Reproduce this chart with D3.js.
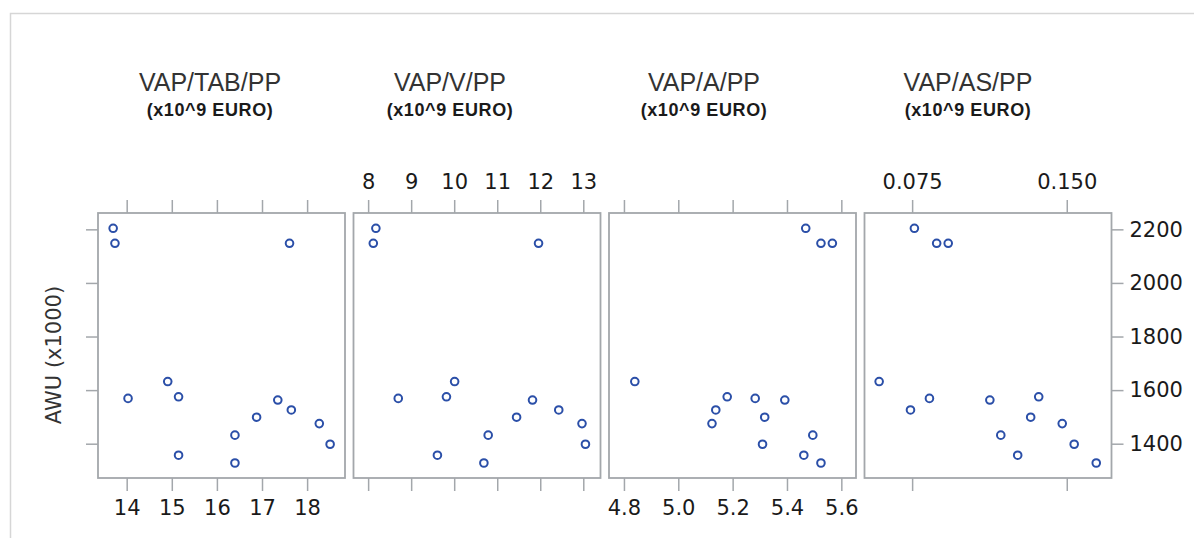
<!DOCTYPE html>
<html>
<head>
<meta charset="utf-8">
<script src="https://cdn.jsdelivr.net/npm/d3@7"></script>
<style>
  body { margin: 0; background: #fff; }
  svg { display: block; }
</style>
</head>
<body>
<svg id="canvas" width="1194" height="538"></svg>
<script>
// panel titles
const titles = ["VAP/TAB/PP", "VAP/V/PP", "VAP/A/PP", "VAP/AS/PP"];
const subtitle = "(x10^9 EURO)";

// AWU (x1000), one value per observation
const awu = [2204, 2148, 2148, 1632, 1575, 1569, 1563, 1526, 1499, 1475, 1432, 1398, 1357, 1328];

// x values of the same observations in each panel
const vapTab = [13.70, 13.74, 17.61, 14.91, 15.15, 14.03, 17.35, 17.65, 16.88, 18.27, 16.40, 18.51, 15.15, 16.40];
const vapV = [8.18, 8.12, 11.96, 10.01, 9.82, 8.70, 11.82, 12.43, 11.45, 12.97, 10.79, 13.05, 9.61, 10.69];
const vapA = [5.469, 5.525, 5.567, 4.840, 5.180, 5.283, 5.392, 5.138, 5.318, 5.124, 5.495, 5.310, 5.462, 5.525];
const vapAs = [0.0761, 0.0869, 0.0925, 0.0590, 0.1364, 0.0834, 0.1127, 0.0742, 0.1325, 0.1478, 0.1180, 0.1536, 0.1262, 0.1643];

// tick values
const yTicks = [1400, 1600, 1800, 2000, 2200];
const tabTicks = [14, 15, 16, 17, 18];
const vTicks = [8, 9, 10, 11, 12, 13];
const aTicks = [4.8, 5.0, 5.2, 5.4, 5.6];
const asTicks = [0.075, 0.150];

const panels = [
  { x: vapTab, domain: [13.364, 18.84], ticks: tabTicks, fmt: d3.format("d"), labels: "bottom", titleX: 210 },
  { x: vapV, domain: [7.66, 13.40], ticks: vTicks, fmt: d3.format("d"), labels: "top", titleX: 450 },
  { x: vapA, domain: [4.745, 5.654], ticks: aTicks, fmt: d3.format(".1f"), labels: "bottom", titleX: 704 },
  { x: vapAs, domain: [0.0519, 0.1717], ticks: asTicks, fmt: d3.format(".3f"), labels: "top", titleX: 968 }
];

const gray = "#a3a7ab";
const blue = "#2b4fa8";
const tickFont = "'DejaVu Sans', sans-serif";

const panelLeft = 98, panelTop = 213, panelW = 247, panelH = 265, gap = 8.5;

const svg = d3.select("#canvas");

// light frame round the graph
svg.append("path")
  .attr("d", "M10.5,538 V13.5 H1194")
  .attr("fill", "none")
  .attr("stroke", "#d6d6d6")
  .attr("stroke-width", 1.5);

const y = d3.scaleLinear().domain([1272, 2261]).range([panelTop + panelH, panelTop]);

function styleAxis(g) {
  g.select(".domain").remove();
  g.selectAll(".tick line").attr("stroke", gray).attr("stroke-width", 1.5);
  g.selectAll(".tick text")
    .attr("fill", "#1a1a1a")
    .style("font-family", tickFont)
    .style("font-size", "21px");
}

panels.forEach((p, i) => {
  const x0 = panelLeft + i * (panelW + gap);
  const x = d3.scaleLinear().domain(p.domain).range([x0, x0 + panelW]);

  // titles
  svg.append("text")
    .attr("x", p.titleX)
    .attr("y", 91)
    .attr("text-anchor", "middle")
    .attr("fill", "#333")
    .style("font-family", "'Liberation Sans', Arial, sans-serif")
    .style("font-size", "25px")
    .text(titles[i]);
  svg.append("text")
    .attr("x", p.titleX)
    .attr("y", 116)
    .attr("text-anchor", "middle")
    .attr("fill", "#1a1a1a")
    .style("font-family", "'Liberation Sans', Arial, sans-serif")
    .style("font-weight", "bold")
    .style("font-size", "18px")
    .style("letter-spacing", "0.6px")
    .text(subtitle);

  // x axes, ticks on both sides, labels alternate
  const bottomAxis = d3.axisBottom(x).tickValues(p.ticks).tickFormat(p.fmt)
    .tickSizeInner(13).tickSizeOuter(0).tickPadding(9);
  const topAxis = d3.axisTop(x).tickValues(p.ticks).tickFormat(p.fmt)
    .tickSizeInner(13).tickSizeOuter(0).tickPadding(11);

  const gb = svg.append("g")
    .attr("transform", `translate(0,${panelTop + panelH})`)
    .call(bottomAxis)
    .call(styleAxis);
  const gt = svg.append("g")
    .attr("transform", `translate(0,${panelTop})`)
    .call(topAxis)
    .call(styleAxis);
  if (p.labels === "bottom") gt.selectAll(".tick text").remove();
  else gb.selectAll(".tick text").remove();

  // panel box
  svg.append("rect")
    .attr("x", x0)
    .attr("y", panelTop)
    .attr("width", panelW)
    .attr("height", panelH)
    .attr("fill", "none")
    .attr("stroke", gray)
    .attr("stroke-width", 1.8);

  // points
  svg.append("g")
    .selectAll("circle")
    .data(p.x.map((v, j) => ({ x: v, y: awu[j] })))
    .enter()
    .append("circle")
    .attr("cx", d => x(d.x))
    .attr("cy", d => y(d.y))
    .attr("r", 3.8)
    .attr("fill", "none")
    .attr("stroke", blue)
    .attr("stroke-width", 2);
});

// y axis: ticks left of first panel, labels right of last panel
svg.append("g")
  .attr("transform", `translate(${panelLeft},0)`)
  .call(d3.axisLeft(y).tickValues(yTicks).tickSizeInner(12).tickSizeOuter(0))
  .call(styleAxis)
  .selectAll(".tick text").remove();

const panelRight = panelLeft + 4 * panelW + 3 * gap;
svg.append("g")
  .attr("transform", `translate(${panelRight},0)`)
  .call(d3.axisRight(y).tickValues(yTicks).tickFormat(d3.format("d"))
    .tickSizeInner(12).tickSizeOuter(0).tickPadding(6))
  .call(styleAxis);

svg.append("text")
  .attr("transform", "translate(61,355) rotate(-90)")
  .attr("text-anchor", "middle")
  .attr("fill", "#333")
  .style("font-family", tickFont)
  .style("font-size", "21px")
  .text("AWU (x1000)");
</script>
</body>
</html>
